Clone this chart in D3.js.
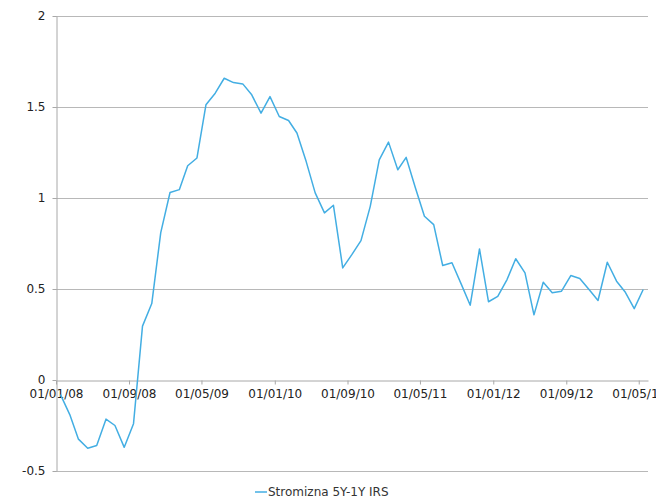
<!DOCTYPE html>
<html>
<head>
<meta charset="utf-8">
<script src="https://cdn.jsdelivr.net/npm/d3@7"></script>
<style>
  body { margin: 0; background: #fff; }
  svg text { font-family: Tahoma, "DejaVu Sans", Verdana, sans-serif; }
</style>
</head>
<body>
<div id="chart"></div>
<script>
// monthly observations, Jan 2008 .. May 2013
const startMonth = '2008-01';
const spreadValues = [
  -0.08, -0.19, -0.325, -0.375, -0.36, -0.215, -0.25, -0.37, -0.24, 0.296,
  0.42, 0.81, 1.03, 1.046, 1.177, 1.22, 1.512, 1.576, 1.658, 1.634,
  1.627, 1.567, 1.466, 1.557, 1.448, 1.426, 1.357, 1.2, 1.028, 0.918,
  0.96, 0.616, 0.69, 0.766, 0.954, 1.21, 1.307, 1.155, 1.223, 1.055,
  0.9, 0.854, 0.629, 0.644, 0.527, 0.411, 0.72, 0.43, 0.46, 0.552,
  0.666, 0.589, 0.358, 0.537, 0.479, 0.488, 0.574, 0.558, 0.497, 0.437,
  0.647, 0.543, 0.485, 0.392, 0.497
];
const xTickLabels = ['2008-01-01', '2008-09-01', '2009-05-01', '2010-01-01', '2010-09-01',
                     '2011-05-01', '2012-01-01', '2012-09-01', '2013-05-01'];
const yTicks = [-0.5, 0, 0.5, 1, 1.5, 2];
const seriesName = 'Stromizna 5Y-1Y IRS';

function init() {
    const width = 656, height = 501;
    const parse = d3.timeParse('%Y-%m-%d');

    // build the dated series (points sit mid-month)
    const start = parse(startMonth + '-01');
    const data = spreadValues.map((v, i) => ({
        date: d3.timeDay.offset(d3.timeMonth.offset(start, i), 15),
        value: v
    }));

    const x = d3.scaleTime()
        .domain([parse('2008-01-01'), parse('2013-06-01')])
        .range([56, 648]);

    const y = d3.scaleLinear()
        .domain([-0.5, 2])
        .range([471, 16]);

    const svg = d3.select('#chart')
        .append('svg')
        .attr('width', width)
        .attr('height', height);

    // gridlines
    svg.append('g')
        .selectAll('line')
        .data(yTicks.filter(d => d !== 0))
        .enter().append('line')
        .attr('x1', 56).attr('x2', 648)
        .attr('y1', d => Math.round(y(d)) + 0.5)
        .attr('y2', d => Math.round(y(d)) + 0.5)
        .attr('stroke', '#b8b8b8')
        .attr('stroke-width', 1);

    // y axis
    const yAxis = svg.append('g')
        .attr('transform', 'translate(56.5,0)')
        .call(d3.axisLeft(y).tickValues(yTicks).tickSize(4).tickSizeOuter(0).tickFormat(d => String(d)));
    yAxis.select('.domain').attr('stroke', '#a8a8a8');
    yAxis.selectAll('.tick line').attr('stroke', '#a8a8a8');
    yAxis.selectAll('.tick text')
        .attr('x', -11)
        .attr('fill', '#222')
        .style('font-size', '12px');

    // x axis sits on zero
    const xAxis = svg.append('g')
        .attr('transform', `translate(0,${Math.round(y(0)) + 0.5})`)
        .call(d3.axisBottom(x)
            .tickValues(xTickLabels.map(parse))
            .tickSize(4).tickSizeOuter(0)
            .tickFormat(d3.timeFormat('%d/%m/%y')));
    xAxis.select('.domain').attr('stroke', '#a8a8a8');
    xAxis.selectAll('.tick line').attr('stroke', '#a8a8a8');
    xAxis.selectAll('.tick text')
        .attr('y', 9)
        .attr('fill', '#222')
        .style('font-size', '12px');

    // the series line
    const line = d3.line()
        .x(d => x(d.date))
        .y(d => y(d.value));

    svg.append('path')
        .datum(data)
        .attr('d', line)
        .attr('fill', 'none')
        .attr('stroke', '#43aee3')
        .attr('stroke-width', 1.5)
        .attr('stroke-linejoin', 'round');

    // legend
    const legend = svg.append('g').attr('transform', 'translate(255,492)');
    legend.append('line')
        .attr('x1', 0).attr('x2', 12)
        .attr('stroke', '#43aee3').attr('stroke-width', 1.5);
    legend.append('text')
        .attr('x', 13).attr('dy', '0.35em')
        .attr('fill', '#333')
        .style('font-size', '12px')
        .text(seriesName);
}

window.onload = init;
</script>
</body>
</html>
